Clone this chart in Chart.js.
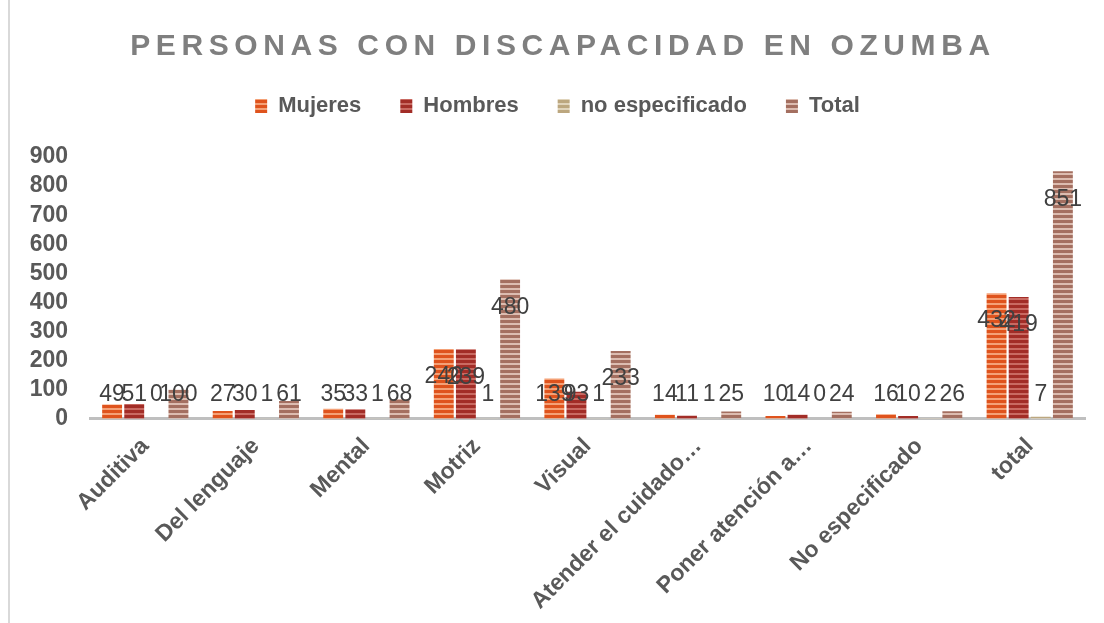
<!DOCTYPE html>
<html>
<head>
<meta charset="utf-8">
<script src="https://cdn.jsdelivr.net/npm/chart.js@4"></script>
<style>
  body { margin: 0; background: #fff; }
  #wrap { position: relative; width: 1104px; height: 623px; }
</style>
</head>
<body>
<div id="wrap"><canvas id="chart"></canvas></div>
<script>
const chartTitle = 'PERSONAS CON DISCAPACIDAD EN OZUMBA';

const categories = ['Auditiva', 'Del lenguaje', 'Mental', 'Motriz', 'Visual',
    'Atender el cuidado…', 'Poner atención a…', 'No especificado', 'total'];

const mujeres = [49, 27, 35, 240, 139, 14, 10, 16, 432];
const hombres = [51, 30, 33, 239, 93, 11, 14, 10, 419];
const noEspecificado = [0, 1, 1, 1, 1, 1, 0, 2, 7];
const total = [100, 61, 68, 480, 233, 25, 24, 26, 851];

const yTicks = [0, 100, 200, 300, 400, 500, 600, 700, 800, 900];

const FONT = '"Liberation Sans", Arial, sans-serif';

// rayas horizontales como en el original
function stripes(base, light) {
    const c = document.createElement('canvas');
    c.width = 8;
    c.height = 5;
    const g = c.getContext('2d');
    g.fillStyle = base;
    g.fillRect(0, 0, 8, 5);
    g.fillStyle = light;
    g.fillRect(0, 3, 8, 2);
    return g.createPattern(c, 'repeat');
}

const titlePlugin = {
    id: 'spacedTitle',
    afterDraw(chart) {
        const ctx = chart.ctx;
        ctx.save();
        // borde izquierdo del área del gráfico
        ctx.strokeStyle = '#d9d9d9';
        ctx.lineWidth = 2;
        ctx.beginPath();
        ctx.moveTo(9, 0);
        ctx.lineTo(9, 623);
        ctx.stroke();

        ctx.font = 'bold 30px ' + FONT;
        ctx.letterSpacing = '5.6px';
        ctx.fillStyle = '#7f7f7f';
        ctx.textAlign = 'center';
        ctx.textBaseline = 'middle';
        ctx.fillText(chartTitle, 563, 47);
        ctx.restore();
    }
};

const labelPlugin = {
    id: 'valueLabels',
    afterDatasetsDraw(chart) {
        const ctx = chart.ctx;
        ctx.save();
        ctx.font = '23px ' + FONT;
        ctx.fillStyle = '#404040';
        ctx.textAlign = 'center';
        ctx.textBaseline = 'middle';
        chart.data.datasets.forEach((ds, i) => {
            const meta = chart.getDatasetMeta(i);
            meta.data.forEach((bar, j) => {
                const y = Math.min(bar.y + 28, bar.base - 24);
                ctx.fillText(String(ds.data[j]), bar.x, y);
            });
        });
        ctx.restore();
    }
};

const ctx = document.getElementById('chart').getContext('2d');

new Chart(ctx, {
    type: 'bar',
    data: {
        labels: categories,
        datasets: [
            { label: 'Mujeres', data: mujeres, backgroundColor: stripes('#df531d', '#f4a177') },
            { label: 'Hombres', data: hombres, backgroundColor: stripes('#a22d27', '#c96a62') },
            { label: 'no especificado', data: noEspecificado, backgroundColor: stripes('#bca77f', '#e0d4bb') },
            { label: 'Total', data: total, backgroundColor: stripes('#a46f60', '#dcbcb0') }
        ]
    },
    options: {
        responsive: true,
        maintainAspectRatio: false,
        animation: false,
        datasets: {
            bar: {
                categoryPercentage: 0.8,
                barPercentage: 0.9,
                borderWidth: 0
            }
        },
        layout: {
            padding: { top: 56, left: 30, right: 19, bottom: 2 }
        },
        plugins: {
            title: { display: false },
            // subtítulo vacío: solo deja el hueco entre la leyenda y el gráfico
            subtitle: {
                display: true,
                text: '',
                weight: 500,
                font: { size: 11, lineHeight: 1 },
                padding: { top: 10, bottom: 9 }
            },
            tooltip: { enabled: false },
            legend: {
                display: true,
                position: 'top',
                labels: {
                    boxWidth: 12,
                    boxHeight: 14,
                    padding: 39,
                    color: '#595959',
                    font: { family: FONT, size: 22, weight: 'bold' }
                }
            }
        },
        scales: {
            x: {
                grid: { display: false },
                border: { display: true, color: '#bfbfbf', width: 3 },
                afterFit(scale) {
                    scale.paddingLeft = 0;
                    scale.paddingRight = 0;
                },
                ticks: {
                    color: '#595959',
                    maxRotation: 45,
                    minRotation: 45,
                    autoSkip: false,
                    padding: 6,
                    font: { family: FONT, size: 23, weight: 'bold' }
                }
            },
            y: {
                min: 0,
                max: 900,
                grid: { display: false, drawTicks: false },
                border: { display: false },
                afterBuildTicks(axis) {
                    axis.ticks = yTicks.map(v => ({ value: v }));
                },
                afterFit(scale) {
                    scale.width = 60;
                },
                ticks: {
                    color: '#595959',
                    padding: 22,
                    autoSkip: false,
                    font: { family: FONT, size: 23, weight: 'bold' }
                }
            }
        }
    },
    plugins: [titlePlugin, labelPlugin]
});
</script>
</body>
</html>
